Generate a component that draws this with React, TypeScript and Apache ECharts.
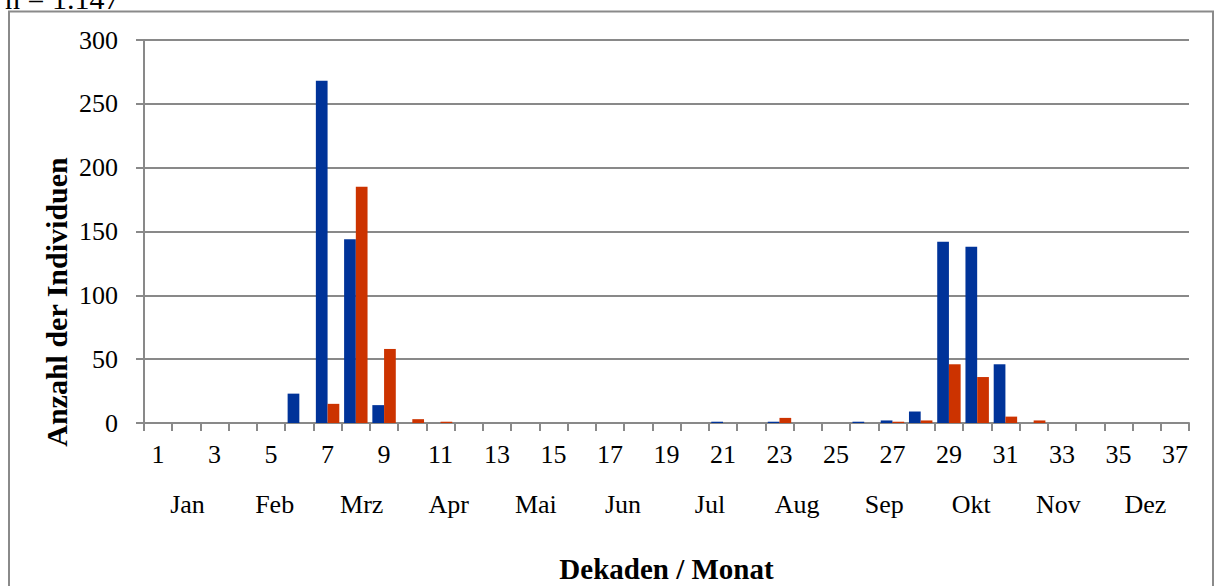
import React, { useEffect, useRef } from "react";
import * as echarts from "echarts";

const decades = [
  "1", "2", "3", "4", "5", "6", "7", "8", "9", "10",
  "11", "12", "13", "14", "15", "16", "17", "18", "19", "20",
  "21", "22", "23", "24", "25", "26", "27", "28", "29", "30",
  "31", "32", "33", "34", "35", "36", "37",
];
const months = ["Jan", "Feb", "Mrz", "Apr", "Mai", "Jun", "Jul", "Aug", "Sep", "Okt", "Nov", "Dez"];

// values per decade 1..37
const seriesBlue = [
  0, 0, 0, 0, 0, 23, 268, 144, 14, 0,
  0, 0, 0, 0, 0, 0, 0, 0, 0, 0,
  1, 0, 1, 0, 0, 1, 2, 9, 142, 138,
  46, 0, 0, 0, 0, 0, 0,
];
const seriesRed = [
  0, 0, 0, 0, 0, 0, 15, 185, 58, 3,
  1, 0, 0, 0, 0, 0, 0, 0, 0, 0,
  0, 0, 4, 0, 0, 0, 1, 2, 46, 36,
  5, 2, 0, 0, 0, 0, 0,
];
const yTicks = { min: 0, max: 300, interval: 50 };

const FONT = "'Liberation Serif', 'Times New Roman', serif";
const GRAY = "#898989";

export default function App() {
  const ref = useRef<HTMLDivElement>(null);
  useEffect(() => {
    if (!ref.current) return;
    const chart = echarts.init(ref.current, undefined, { renderer: "svg" });
    chart.setOption({
      animation: false,
      backgroundColor: "#ffffff",
      grid: {
        left: 144,
        right: 29,
        top: 40,
        bottom: 163,
        containLabel: false,
        outerBoundsMode: "none",
      },
      xAxis: [
        {
          type: "category",
          data: decades,
          boundaryGap: true,
          axisLine: { show: true, lineStyle: { color: GRAY, width: 2 } },
          axisTick: { show: true, interval: 0, length: 8, lineStyle: { color: GRAY, width: 2 } },
          axisLabel: { interval: 1, fontSize: 26, fontFamily: FONT, color: "#000", margin: 18 },
          splitLine: { show: false },
        },
        {
          type: "category",
          data: months,
          position: "bottom",
          offset: 50,
          boundaryGap: true,
          axisLine: { show: false },
          axisTick: { show: false },
          axisLabel: { interval: 0, fontSize: 26, fontFamily: FONT, color: "#000", margin: 18 },
          splitLine: { show: false },
          name: "Dekaden / Monat",
          nameLocation: "middle",
          nameGap: 83,
          nameTextStyle: {
            fontSize: 29,
            lineHeight: 26,
            fontWeight: "bold",
            fontFamily: FONT,
            color: "#000",
          },
        },
      ],
      yAxis: {
        type: "value",
        min: yTicks.min,
        max: yTicks.max,
        interval: yTicks.interval,
        axisLine: { show: true, lineStyle: { color: GRAY, width: 2 } },
        axisTick: { show: true, length: 8, lineStyle: { color: GRAY, width: 2 } },
        axisLabel: { fontSize: 26, fontFamily: FONT, color: "#000", margin: 26 },
        splitLine: { show: true, lineStyle: { color: GRAY, width: 2 } },
      },
      series: [
        {
          type: "bar",
          data: seriesBlue,
          xAxisIndex: 0,
          barGap: "0%",
          barCategoryGap: "17%",
          itemStyle: { color: "#003399" },
        },
        {
          type: "bar",
          data: seriesRed,
          xAxisIndex: 0,
          barGap: "0%",
          barCategoryGap: "17%",
          itemStyle: { color: "#CC3300" },
        },
      ],
      graphic: [
        {
          type: "rect",
          z: 0,
          shape: { x: 9, y: 11.5, width: 1204, height: 620 },
          style: { fill: "none", stroke: "#8a8a8a", lineWidth: 2 },
        },
        {
          type: "text",
          x: 5,
          y: 13,
          style: {
            text: "n = 1.147",
            font: `30px ${FONT}`,
            fill: "#000",
            textAlign: "left",
            textVerticalAlign: "bottom",
            verticalAlign: "bottom",
          },
        },
        {
          type: "text",
          x: 56,
          y: 302,
          rotation: Math.PI / 2,
          style: {
            text: "Anzahl der Individuen",
            font: `bold 30px ${FONT}`,
            fill: "#000",
            textAlign: "center",
            textVerticalAlign: "middle",
            verticalAlign: "middle",
          },
        },
      ],
    });
    return () => chart.dispose();
  }, []);
  return (
    <div
      ref={ref}
      style={{ position: "absolute", left: 0, top: 0, width: 1218, height: 586 }}
    />
  );
}
